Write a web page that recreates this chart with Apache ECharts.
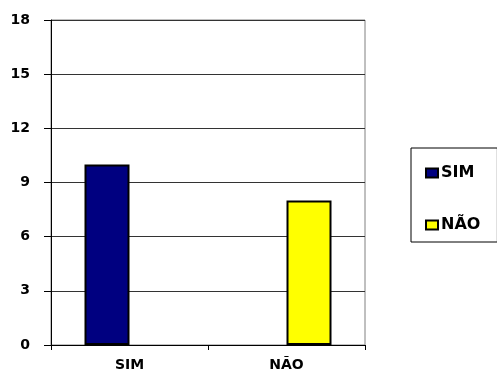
<!DOCTYPE html>
<html>
<head>
<meta charset="utf-8">
<script src="https://cdn.jsdelivr.net/npm/echarts@6/dist/echarts.min.js"></script>
<style>
  html, body { margin: 0; padding: 0; background: #fff; }
  #chart { width: 497px; height: 375px; }
</style>
</head>
<body>
<div id="chart"></div>
<script>
// Answers per category and the y-axis scale
var categories = ['SIM', 'NÃO'];
var seriesNames = ['SIM', 'NÃO'];
var simValues = [10, null];
var naoValues = [null, 8];
var yTicks = { min: 0, max: 18, interval: 3 };

var FONT = '"DejaVu Sans", Verdana, sans-serif';

var chart = echarts.init(document.getElementById('chart'), null, { renderer: 'canvas' });

chart.setOption({
  animation: false,
  backgroundColor: '#ffffff',
  grid: {
    left: 51, right: 132, top: 20, bottom: 30,
    show: true,
    borderColor: '#808080',
    borderWidth: 1
  },
  legend: {
    orient: 'vertical',
    left: 411,
    top: 148,
    padding: [17, 17, 9, 14],
    itemGap: 36,
    itemWidth: 12,
    itemHeight: 9,
    icon: 'rect',
    borderColor: '#000',
    borderWidth: 1,
    borderRadius: 0,
    textStyle: { fontFamily: FONT, fontWeight: 'bold', fontSize: 16, color: '#000', padding: [0, 0, 0, -2] },
    data: seriesNames
  },
  xAxis: {
    type: 'category',
    data: categories,
    axisLine: { lineStyle: { color: '#000', width: 1 } },
    axisTick: { show: true, alignWithLabel: false, length: 5, lineStyle: { color: '#000' } },
    axisLabel: { fontFamily: FONT, fontWeight: 'bold', fontSize: 14, color: '#000', margin: 13 }
  },
  yAxis: {
    type: 'value',
    min: yTicks.min,
    max: yTicks.max,
    interval: yTicks.interval,
    axisLine: { show: true, lineStyle: { color: '#000', width: 1 } },
    axisTick: { show: true, length: 7, lineStyle: { color: '#000' } },
    axisLabel: { fontFamily: FONT, fontWeight: 'bold', fontSize: 14, color: '#000', margin: 21 },
    splitLine: { lineStyle: { color: '#333', width: 1 } }
  },
  series: [
    {
      name: seriesNames[0],
      type: 'bar',
      data: simValues,
      barWidth: 45,
      barGap: '0%',
      itemStyle: { color: '#000080', borderColor: '#000', borderWidth: 2 }
    },
    {
      name: seriesNames[1],
      type: 'bar',
      data: naoValues,
      barWidth: 45,
      barGap: '0%',
      itemStyle: { color: '#ffff00', borderColor: '#000', borderWidth: 2 }
    }
  ]
});
</script>
</body>
</html>
